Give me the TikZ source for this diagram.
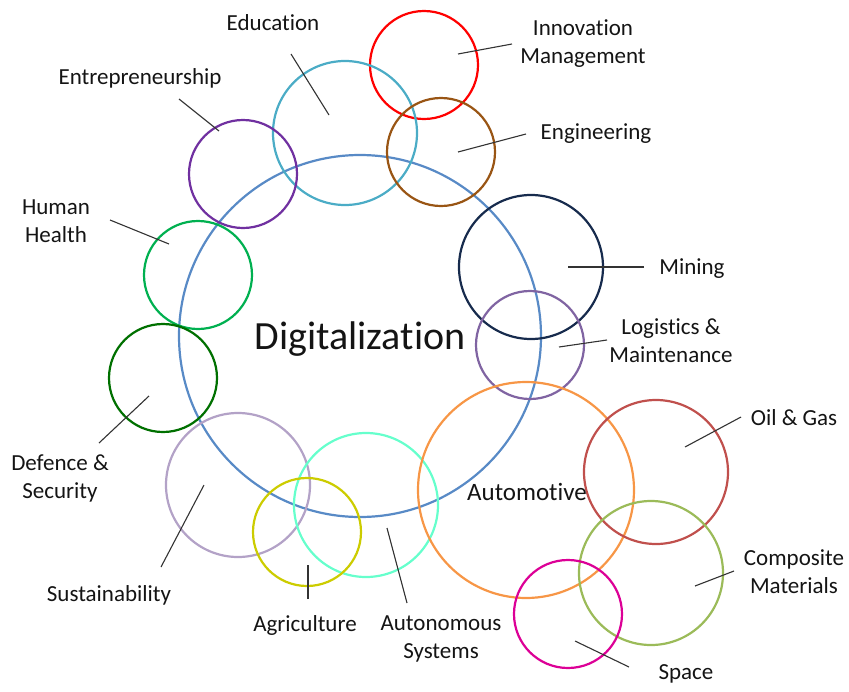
\documentclass[tikz,border=0pt]{standalone}
\usepackage{fontspec}
\setmainfont{Carlito}[Ligatures=NoCommon]
\definecolor{cBlue}{RGB}{88,138,198}
\definecolor{cRed}{RGB}{255,0,0}
\definecolor{cTeal}{RGB}{75,172,198}
\definecolor{cBrown}{RGB}{153,85,20}
\definecolor{cPurple}{RGB}{112,48,160}
\definecolor{cGreen}{RGB}{0,176,80}
\definecolor{cDkGreen}{RGB}{0,112,0}
\definecolor{cNavy}{RGB}{23,43,77}
\definecolor{cLog}{RGB}{128,100,162}
\definecolor{cLav}{RGB}{179,162,199}
\definecolor{cAqua}{RGB}{102,255,204}
\definecolor{cOlive}{RGB}{204,204,0}
\definecolor{cOrange}{RGB}{247,150,70}
\definecolor{cOil}{RGB}{192,80,77}
\definecolor{cLime}{RGB}{155,187,89}
\definecolor{cMag}{RGB}{220,0,150}
\definecolor{txt}{RGB}{20,20,20}
\begin{document}
\begin{tikzpicture}[x=1pt,y=-1pt,
  ring/.style={circle,draw=#1,line width=2.2pt,inner sep=0pt},
  lbl/.style={text=txt,font=\fontsize{23}{28}\selectfont,align=center,inner sep=0pt},
  leader/.style={draw=black!80,line width=1.1pt}]
\useasboundingbox (0,0) rectangle (849,691);
% circles
\node[ring=cBlue,minimum size=362pt] (dig) at (360,336) {};
\node[ring=cRed,minimum size=108pt] (inn) at (424,65) {};
\node[ring=cTeal,minimum size=144pt] (edu) at (345,133) {};
\node[ring=cBrown,minimum size=108pt] (eng) at (441,152) {};
\node[ring=cPurple,minimum size=108pt] (ent) at (243,174) {};
\node[ring=cGreen,minimum size=108pt] (hh) at (198,275) {};
\node[ring=cNavy,minimum size=144pt] (min) at (531,267) {};
\node[ring=cLog,minimum size=108pt] (log) at (530,345) {};
\node[ring=cDkGreen,minimum size=108pt] (def) at (163,378) {};
\node[ring=cLav,minimum size=144pt] (sus) at (238,485) {};
\node[ring=cAqua,minimum size=144pt] (aut) at (366,505) {};
\node[ring=cOlive,minimum size=108pt] (agr) at (307,532) {};
\node[ring=cOrange,minimum size=216pt] (auto) at (526,490) {};
\node[ring=cOil,minimum size=144pt] (oil) at (656,472) {};
\node[ring=cLime,minimum size=144pt] (com) at (651,573) {};
\node[ring=cMag,minimum size=108pt] (spa) at (568,614) {};
% texts
\node[text=txt,font=\fontsize{40}{48}\selectfont,inner sep=0pt] (tDig) at (360,339) {Digitalization};
\node[text=txt,font=\fontsize{25}{30}\selectfont,inner sep=0pt] (tAuto) at (527,492) {Automotive};
\node[lbl] (tEdu) at (273,23) {Education};
\node[lbl] (tInn) at (583,44) {Innovation\\Management};
\node[lbl] (tEng) at (596,134) {Engineering};
\node[lbl] (tEnt) at (140,78) {Entrepreneurship};
\node[lbl] (tHH) at (56,221) {Human\\Health};
\node[lbl] (tMin) at (692,269) {Mining};
\node[lbl] (tLog) at (671,341) {Logistics \&\\Maintenance};
\node[lbl] (tOil) at (794,418) {Oil \& Gas};
\node[lbl] (tCom) at (794,572) {Composite\\Materials};
\node[lbl] (tSpa) at (686,674) {Space};
\node[lbl] (tDef) at (60,478) {Defence \&\\Security};
\node[lbl] (tSus) at (109,595) {Sustainability};
\node[lbl] (tAgr) at (305,625) {Agriculture};
\node[lbl] (tAut) at (441,639) {Autonomous\\Systems};
% leader lines
\coordinate (a1) at (291,54);  \coordinate (b1) at (329,115);
\coordinate (a2) at (512,44);  \coordinate (b2) at (458,54);
\coordinate (a3) at (526,134); \coordinate (b3) at (458,152);
\coordinate (a4) at (179,99);  \coordinate (b4) at (219,131);
\coordinate (a5) at (110,220); \coordinate (b5) at (169,244);
\coordinate (a6) at (644,267); \coordinate (b6) at (568,267);
\coordinate (a7) at (607,340); \coordinate (b7) at (559,347);
\coordinate (a8) at (741,417); \coordinate (b8) at (685,447);
\coordinate (a9) at (734,571); \coordinate (b9) at (695,586);
\coordinate (a10) at (629,667); \coordinate (b10) at (575,641);
\coordinate (a11) at (99,443); \coordinate (b11) at (149,396);
\coordinate (a12) at (161,567); \coordinate (b12) at (204,485);
\coordinate (a13) at (308,599); \coordinate (b13) at (308,565);
\coordinate (a14) at (407,603); \coordinate (b14) at (387,528);
\foreach \i in {1,...,14} {\draw[leader] (a\i) -- (b\i);}
\end{tikzpicture}
\end{document}
